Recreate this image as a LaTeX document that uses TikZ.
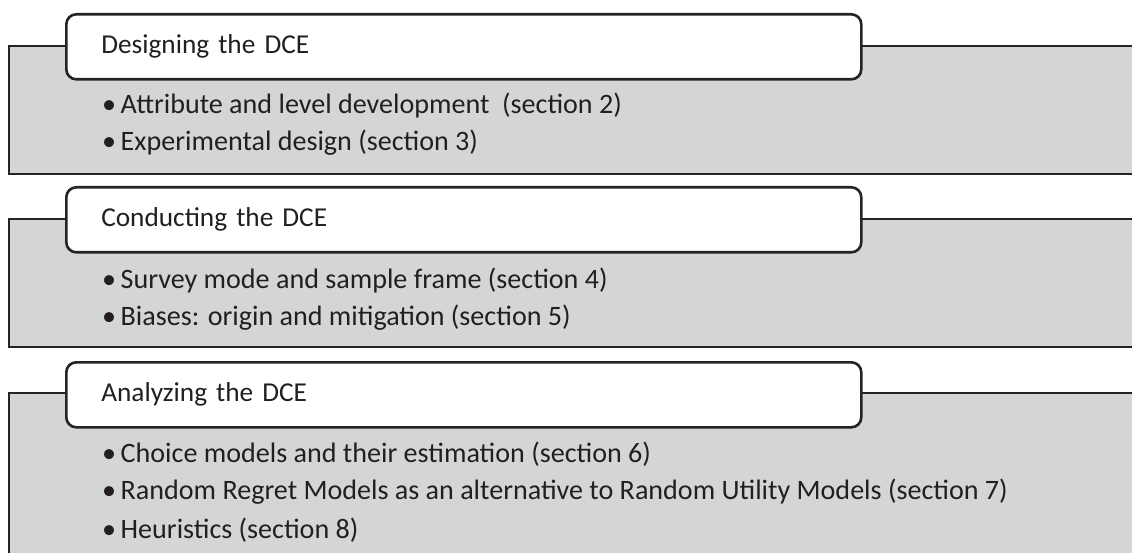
\documentclass[tikz,border=0pt]{standalone}
\usepackage{fontspec}
\setmainfont{Carlito}
\definecolor{panelgray}{HTML}{D4D5D7}
\definecolor{linegray}{HTML}{262324}
\definecolor{textgray}{HTML}{231F20}
\newcommand{\bul}{•\hspace{0.16em}}
\begin{document}
\begin{tikzpicture}[x=1pt,y=-1pt,
  panel/.style={fill=panelgray, draw=none},
  edgeline/.style={draw=linegray, line width=2.6pt},
  titlebox/.style={draw=linegray, line width=2.6pt, fill=white, rounded corners=10pt,
    anchor=north west, minimum height=65pt, text width=725pt, inner xsep=35pt, inner ysep=0pt,
    align=left, font=\fontsize{27.3}{32}\selectfont, text=textgray},
  item/.style={anchor=west, inner sep=0pt, font=\fontsize{28.1}{32}\selectfont, text=textgray}]
\useasboundingbox (0,0) rectangle (1132,553);
% panel 1
\fill[panel] (9,46) rectangle (1140,174);
\draw[edgeline] (1140,46) -- (9,46) -- (9,174) -- (1140,174);
\node[titlebox] (t1) at (65,13) {Designing the DCE};
\node[item] (a1) at (102,105) {\bul Attribute and level development\ \ (section 2)};
\node[item] (a2) at (102,143) {\bul Experimental design (section 3)};
% panel 2
\fill[panel] (9,219) rectangle (1140,347);
\draw[edgeline] (1140,219) -- (9,219) -- (9,347) -- (1140,347);
\node[titlebox] (t2) at (65,186) {Conducting the DCE};
\node[item] (b1) at (102,280) {\bul Survey mode and sample frame (section 4)};
\node[item] (b2) at (102,318) {\bul Biases: origin and mitigation (section 5)};
% panel 3
\fill[panel] (9,393) rectangle (1140,560);
\draw[edgeline] (1140,393) -- (9,393) -- (9,560);
\node[titlebox] (t3) at (65,361) {Analyzing the DCE};
\node[item] (c1) at (102,454) {\bul Choice models and their estimation (section 6)};
\node[item] (c2) at (102,492) {\bul Random Regret Models as an alternative to Random Utility Models (section 7)};
\node[item] (c3) at (102,530) {\bul Heuristics (section 8)};
\end{tikzpicture}
\end{document}
